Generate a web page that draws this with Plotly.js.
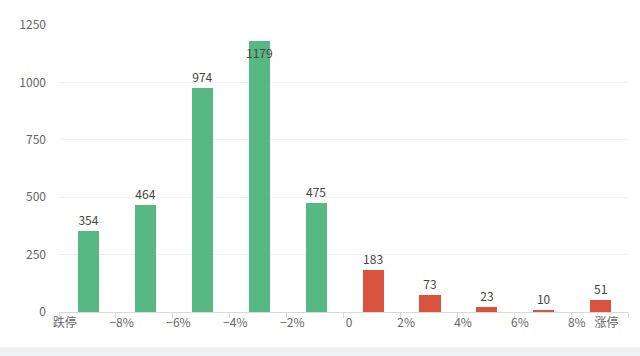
<!DOCTYPE html>
<html>
<head>
<meta charset="utf-8">
<script src="https://cdn.plot.ly/plotly-3.0.1.min.js"></script>
<style>
  html, body { margin: 0; padding: 0; background: #eef0f2; }
  #chart { width: 640px; height: 347px; background: #ffffff; }
</style>
</head>
<body>
<div id="chart"></div>
<script>
// Tick labels along the x axis (boundaries between bins)
const tickLabels = ['跌停', '−8%', '−6%', '−4%', '−2%', '0', '2%', '4%', '6%', '8%', '涨停'];
// Number of stocks in each change bin (10 bins between the 11 boundaries)
const binCounts = [354, 464, 974, 1179, 475, 183, 73, 23, 10, 51];
// Y axis ticks
const yTicks = [0, 250, 500, 750, 1000, 1250];

const GREEN = '#58b883';
const RED = '#d9533f';
const FONT = '"Noto Sans CJK SC", "Noto Sans", sans-serif';

const nBins = binCounts.length;
const binX = binCounts.map((_, i) => i + 0.52);
const barColors = binCounts.map((_, i) => (i < nBins / 2 ? GREEN : RED));
const maxCount = Math.max(...binCounts);
const textPos = binCounts.map(v => (v === maxCount ? 'inside' : 'outside'));

const boundaryVals = tickLabels.map((_, i) => i);
const labelVals = tickLabels.map((_, i) => (i < tickLabels.length - 1 ? i + 0.1 : nBins - 0.38));

const traces = [
  {
    type: 'bar',
    x: binX,
    y: binCounts,
    width: 0.37,
    marker: { color: barColors },
    text: binCounts.map(String),
    textposition: textPos,
    textangle: 0,
    insidetextanchor: 'end',
    constraintext: 'none',
    cliponaxis: false,
    textfont: { family: FONT, size: 12, color: '#444444' },
    insidetextfont: { family: FONT, size: 12, color: '#444444' },
    outsidetextfont: { family: FONT, size: 12, color: '#444444' },
    hoverinfo: 'y',
    showlegend: false
  },
  {
    type: 'scatter',
    mode: 'markers',
    x: [0],
    y: [0],
    xaxis: 'x2',
    marker: { opacity: 0 },
    hoverinfo: 'skip',
    showlegend: false
  }
];

const layout = {
  width: 640,
  height: 347,
  margin: { l: 59, r: 12, t: 25, b: 35 },
  paper_bgcolor: '#ffffff',
  plot_bgcolor: '#ffffff',
  font: { family: FONT, size: 12, color: '#666666' },
  xaxis: {
    range: [0, nBins],
    tickvals: labelVals,
    ticktext: tickLabels,
    ticks: '',
    showgrid: false,
    zeroline: false,
    showline: true,
    linecolor: '#d9d9d9',
    linewidth: 1,
    tickfont: { family: FONT, size: 12, color: '#666666' },
    fixedrange: true
  },
  xaxis2: {
    overlaying: 'x',
    anchor: 'y',
    side: 'bottom',
    range: [0, nBins],
    tickvals: boundaryVals,
    showticklabels: false,
    ticks: 'outside',
    ticklen: 5,
    tickcolor: '#d9d9d9',
    showgrid: false,
    zeroline: false,
    showline: false
  },
  yaxis: {
    range: [0, 1250],
    tickvals: yTicks,
    ticktext: yTicks.map(String),
    ticks: '',
    ticklabelstandoff: 12,
    showgrid: true,
    gridcolor: '#f0f0f0',
    gridwidth: 1,
    zeroline: false,
    showline: false,
    tickfont: { family: FONT, size: 12, color: '#666666' },
    fixedrange: true
  },
  bargap: 0
};

Plotly.newPlot('chart', traces, layout, { displayModeBar: false, staticPlot: true });
</script>
</body>
</html>
